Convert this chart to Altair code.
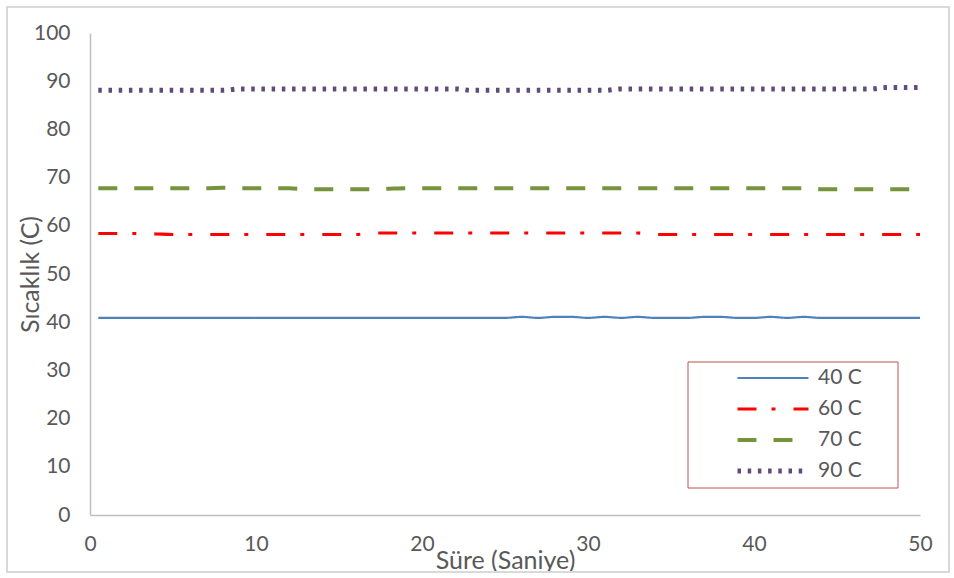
import altair as alt
import pandas as pd

# Time stamps (seconds)
times = [0.5, 1, 2, 3, 4, 5, 6, 7, 8, 9, 10, 11, 12, 13, 14, 15, 16, 17, 18, 19, 20,
         21, 22, 23, 24, 25, 26, 27, 28, 29, 30, 31, 32, 33, 34, 35, 36, 37, 38, 39, 40,
         41, 42, 43, 44, 45, 46, 47, 48, 49, 50]

# Measured temperatures for each set point
temp_40 = [40.9, 40.9, 40.9, 40.9, 40.9, 40.9, 40.9, 40.9, 40.9, 40.9, 40.9,
           40.9, 40.9, 40.9, 40.9, 40.9, 40.9, 40.9, 40.9, 40.9, 40.9,
           40.9, 40.9, 40.9, 40.9, 40.9, 41.1, 40.9, 41.1, 41.1, 40.9,
           41.1, 40.9, 41.1, 40.9, 40.9, 40.9, 41.1, 41.1, 40.9, 40.9,
           41.1, 40.9, 41.1, 40.9, 40.9, 40.9, 40.9, 40.9, 40.9, 40.9]
temp_60 = [58.4, 58.4, 58.4, 58.4, 58.3, 58.2, 58.2, 58.2, 58.2, 58.2, 58.2,
           58.2, 58.2, 58.2, 58.2, 58.2, 58.2, 58.5, 58.5, 58.5, 58.5,
           58.5, 58.5, 58.5, 58.5, 58.5, 58.5, 58.5, 58.5, 58.5, 58.5,
           58.5, 58.5, 58.5, 58.2, 58.2, 58.2, 58.2, 58.2, 58.2, 58.2,
           58.2, 58.2, 58.2, 58.2, 58.2, 58.2, 58.2, 58.2, 58.2, 58.2]
temp_70 = [67.8, 67.8, 67.8, 67.8, 67.8, 67.8, 67.8, 67.8, 67.9, 67.8, 67.8,
           67.8, 67.8, 67.6, 67.6, 67.6, 67.6, 67.6, 67.7, 67.8, 67.8,
           67.8, 67.8, 67.8, 67.8, 67.8, 67.8, 67.8, 67.8, 67.8, 67.8,
           67.8, 67.8, 67.8, 67.8, 67.8, 67.8, 67.8, 67.8, 67.8, 67.8,
           67.8, 67.8, 67.8, 67.6, 67.6, 67.6, 67.6, 67.6, 67.6, 67.6]
temp_90 = [88.1, 88.1, 88.1, 88.1, 88.1, 88.1, 88.1, 88.1, 88.1, 88.4, 88.4,
           88.4, 88.4, 88.4, 88.4, 88.4, 88.4, 88.4, 88.4, 88.4, 88.4,
           88.4, 88.4, 88.1, 88.1, 88.1, 88.1, 88.1, 88.1, 88.1, 88.1,
           88.1, 88.4, 88.4, 88.4, 88.4, 88.4, 88.4, 88.4, 88.4, 88.4,
           88.4, 88.4, 88.4, 88.4, 88.4, 88.4, 88.4, 88.7, 88.7, 88.7]

series_names = ["40 C", "60 C", "70 C", "90 C"]
series_values = [temp_40, temp_60, temp_70, temp_90]
series_colors = ["#4F81BD", "#FF0000", "#77933C", "#604A7B"]
series_dashes = [[1, 0], [19, 15, 4, 18], [19, 17], [3.5, 6.7]]
series_widths = [2.2, 5, 5, 3.6]

rows = []
for name, values in zip(series_names, series_values):
    for t, v in zip(times, values):
        rows.append({"t": t, "temp": v, "series": name})
df = pd.DataFrame(rows)

FONT = "Lato"
GREY = "#595959"

legend = alt.Legend(
    title=None,
    orient="none",
    legendX=645,
    legendY=329.5,
    symbolType="stroke",
    symbolSize=5041,
    clipHeight=31,
    rowPadding=0,
    padding=0,
    symbolOffset=0,
    labelOffset=7,
    labelFont=FONT,
    labelFontSize=21,
    labelColor=GREY,
)

lines = alt.Chart(df).mark_line(interpolate="monotone", strokeCap="butt").encode(
    x=alt.X("t:Q", scale=alt.Scale(domain=[0, 50], nice=False),
            axis=alt.Axis(values=[0, 10, 20, 30, 40, 50], title="Süre (Saniye)",
                          titleY=53, titleBaseline="alphabetic", labelPadding=18,
                          labelFlush=False)),
    y=alt.Y("temp:Q", scale=alt.Scale(domain=[0, 100], nice=False),
            axis=alt.Axis(values=list(range(0, 101, 10)), title="Sıcaklık (C)",
                          titleX=-52, titleBaseline="alphabetic", labelPadding=20,
                          labelFlush=False)),
    color=alt.Color("series:N", scale=alt.Scale(domain=series_names, range=series_colors),
                    legend=legend),
    strokeDash=alt.StrokeDash("series:N", scale=alt.Scale(domain=series_names, range=series_dashes),
                              legend=legend),
    strokeWidth=alt.StrokeWidth("series:N", scale=alt.Scale(domain=series_names, range=series_widths),
                                legend=legend),
    detail="series:N",
)

one_row = alt.Data(values=[{}])

# Frame around the legend entries
legend_box = alt.Chart(one_row).mark_rect(fill="white", stroke="#C0504D", strokeWidth=1).encode(
    x=alt.value(598), x2=alt.value(808), y=alt.value(329), y2=alt.value(455)
)

# Outer chart-area border
outer_box = alt.Chart(one_row).mark_rect(fill=None, stroke="#D9D9D9", strokeWidth=2).encode(
    x=alt.value(-83), x2=alt.value(859), y=alt.value(-26), y2=alt.value(539)
)

chart = alt.layer(outer_box, legend_box, lines).properties(
    width=830,
    height=482,
    autosize=alt.AutoSizeParams(type="none"),
    padding={"left": 90, "top": 33, "right": 34, "bottom": 63},
    background="white",
).configure_view(stroke=None).configure_axis(
    grid=False,
    ticks=False,
    domainColor="#BFBFBF",
    domainWidth=1.5,
    labelFont=FONT,
    labelFontSize=21,
    labelColor=GREY,
    titleFont=FONT,
    titleFontSize=25,
    titleFontWeight="normal",
    titleColor=GREY,
)

chart.save("out.html", embed_options={"renderer": "svg", "actions": False})
